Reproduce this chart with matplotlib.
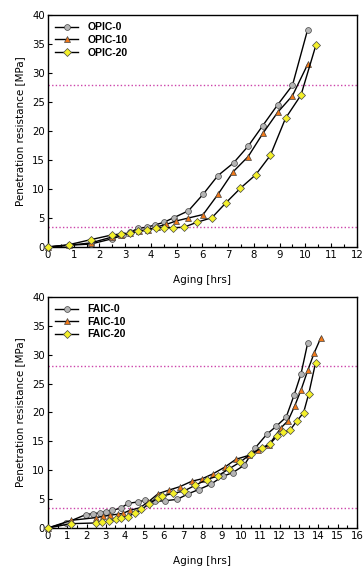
import matplotlib
matplotlib.use('Agg')
import matplotlib.pyplot as plt
from matplotlib.ticker import MultipleLocator

# top panel: OPIC
opic0_x = [0, 0.8, 1.66, 2.48, 2.9, 3.2, 3.48, 3.85, 4.15, 4.5, 4.89, 5.46, 6.03, 6.6, 7.21, 7.78, 8.34, 8.92, 9.5, 10.09]
opic0_y = [0, 0.3, 0.5, 1.4, 2.0, 2.5, 3.2, 3.4, 3.8, 4.25, 5.05, 6.25, 9.1, 12.3, 14.5, 17.4, 20.9, 24.5, 27.9, 37.5]
opic10_x = [0, 0.82, 1.66, 2.48, 2.85, 3.2, 3.55, 3.9, 4.25, 4.6, 4.99, 5.46, 6.03, 6.61, 7.2, 7.78, 8.35, 8.92, 9.5, 10.09]
opic10_y = [0, 0.3, 0.7, 1.7, 2.1, 2.4, 2.8, 3.0, 3.5, 3.9, 4.5, 5.0, 5.6, 9.1, 13.0, 15.6, 19.6, 23.2, 26.1, 31.5]
opic20_x = [0, 0.82, 1.66, 2.48, 2.83, 3.18, 3.51, 3.85, 4.19, 4.5, 4.86, 5.28, 5.78, 6.37, 6.91, 7.48, 8.07, 8.64, 9.23, 9.83, 10.41]
opic20_y = [0, 0.4, 1.26, 2.07, 2.24, 2.4, 2.7, 2.87, 3.33, 3.33, 3.33, 3.4, 4.25, 5.05, 7.6, 10.15, 12.45, 15.8, 22.2, 26.2, 34.8]

# bottom panel: FAIC
faic0_x = [0, 0.95, 1.95, 2.34, 2.68, 2.99, 3.34, 3.79, 4.15, 4.64, 5.03, 5.55, 6.09, 6.7, 7.28, 7.8, 8.43, 9.05, 9.57, 10.16, 10.73, 11.33, 11.82, 12.34, 12.75, 13.11, 13.46]
faic0_y = [0, 0.92, 2.3, 2.5, 2.6, 2.83, 3.06, 3.46, 4.27, 4.5, 4.8, 4.6, 4.73, 4.96, 5.94, 6.64, 7.56, 8.94, 9.58, 10.85, 13.85, 16.2, 17.6, 19.2, 23.0, 26.7, 32.1]
faic10_x = [0, 1.21, 2.5, 2.85, 3.2, 3.63, 3.9, 4.24, 4.76, 5.19, 5.71, 6.28, 6.83, 7.44, 8.0, 8.56, 9.17, 9.74, 10.43, 10.9, 11.43, 12.06, 12.44, 12.79, 13.11, 13.46, 13.79, 14.13]
faic10_y = [0, 1.33, 1.8, 2.0, 2.2, 2.4, 2.55, 3.06, 3.5, 4.5, 5.94, 6.58, 7.15, 8.08, 8.54, 9.4, 10.56, 11.9, 12.6, 13.45, 14.3, 17.3, 18.6, 21.2, 23.9, 27.3, 30.3, 32.9]
faic20_x = [0, 1.21, 2.47, 2.82, 3.17, 3.51, 3.81, 4.15, 4.5, 4.84, 5.22, 5.71, 5.93, 6.49, 7.04, 7.63, 8.22, 8.79, 9.36, 9.95, 10.53, 11.09, 11.49, 11.89, 12.2, 12.54, 12.89, 13.24, 13.51, 13.86]
faic20_y = [0, 0.75, 0.87, 0.98, 1.21, 1.56, 1.79, 1.96, 2.6, 3.23, 4.1, 5.25, 5.54, 6.0, 6.4, 7.39, 8.37, 9.0, 10.2, 11.4, 12.87, 13.9, 14.54, 15.98, 16.6, 16.96, 18.5, 19.97, 23.25, 28.56]

limits = [28, 3.5]

gray = '#b4b4b4'
orange = '#f07818'
yellow = '#f4f02a'

fig = plt.figure(figsize=(3.63, 5.67), dpi=100)
ax1 = fig.add_axes([0.132, 0.5644, 0.851, 0.409])
ax2 = fig.add_axes([0.132, 0.0688, 0.851, 0.4074])


def draw(ax, series, labels, xmax):
    styles = [('o', gray, 4.2), ('^', orange, 5.0), ('D', yellow, 4.2)]
    for (x, y), lab, (m, c, s) in zip(series, labels, styles):
        ax.plot(x, y, color='black', lw=1.0, marker=m, markersize=s,
                markerfacecolor=c, markeredgecolor='#444444', markeredgewidth=0.5,
                label=lab, clip_on=False, zorder=3)
    for v in limits:
        ax.axhline(v, color='#cc44aa', lw=1.0, ls=(0, (1, 1.6)), zorder=1)
    ax.set_xlim(0, xmax)
    ax.set_ylim(0, 40)
    ax.xaxis.set_major_locator(MultipleLocator(1))
    ax.xaxis.set_minor_locator(MultipleLocator(0.5))
    ax.yaxis.set_major_locator(MultipleLocator(5))
    ax.tick_params(which='both', direction='in', labelsize=7.3, pad=2)
    ax.tick_params(which='major', length=3, width=0.8)
    ax.tick_params(which='minor', length=2, width=0.8)
    for sp in ax.spines.values():
        sp.set_linewidth(1.0)
    ax.set_xlabel('Aging [hrs]', fontsize=7.5, labelpad=11)
    ax.set_ylabel('Penetration resistance [MPa]', fontsize=7.5, labelpad=5)
    ax.legend(loc='upper left', frameon=False, handlelength=2.2, handletextpad=0.9,
              labelspacing=0.25, borderaxespad=0.3,
              prop={'family': 'Liberation Sans', 'weight': 'bold', 'size': 7.5})


draw(ax1, [(opic0_x, opic0_y), (opic10_x, opic10_y), (opic20_x, opic20_y)],
     ['OPIC-0', 'OPIC-10', 'OPIC-20'], 12)
draw(ax2, [(faic0_x, faic0_y), (faic10_x, faic10_y), (faic20_x, faic20_y)],
     ['FAIC-0', 'FAIC-10', 'FAIC-20'], 16)

fig.savefig('out.png', dpi=100)
